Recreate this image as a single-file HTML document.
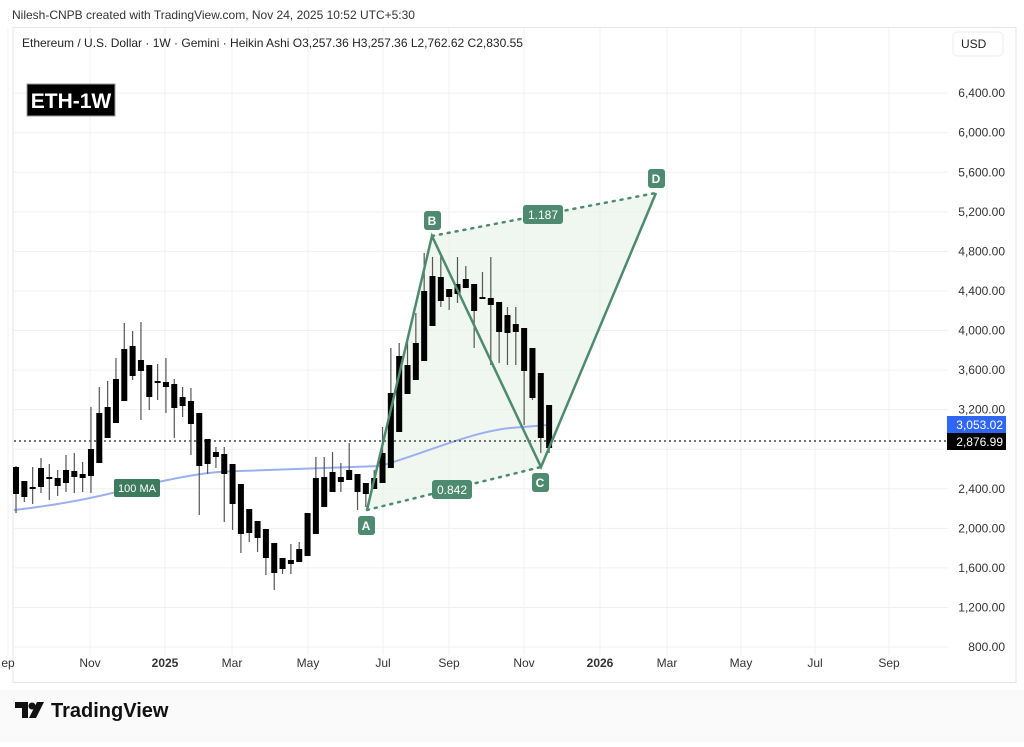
<!DOCTYPE html><html><head><meta charset="utf-8"><style>
body{margin:0;background:#fff;width:1024px;height:742px;overflow:hidden;font-family:"Liberation Sans",sans-serif}
</style></head><body>
<svg width="1024" height="742" xmlns="http://www.w3.org/2000/svg" font-family="Liberation Sans, sans-serif">
<rect x="0" y="690" width="1024" height="52" fill="#fafafa"/>
<text x="12" y="19" font-size="12" fill="#333">Nilesh-CNPB created with TradingView.com, Nov 24, 2025 10:52 UTC+5:30</text>
<rect x="13" y="27.5" width="1003" height="655" fill="#fff" stroke="#e6e6e6"/>
<g stroke="#f0f0f0" stroke-width="1" id="grid"></g>
<text x="22" y="47" font-size="12" fill="#222">Ethereum / U.S. Dollar · 1W · Gemini · Heikin Ashi  O3,257.36  H3,257.36  L2,762.62  C2,830.55</text>
<rect x="27" y="84" width="88" height="32" fill="#000" stroke="#999"/>
<text x="71" y="108" font-size="21" font-weight="bold" fill="#fff" text-anchor="middle">ETH-1W</text>
<rect x="953" y="32" width="50" height="24" rx="4" fill="#fff" stroke="#eee"/>
<text x="961" y="48" font-size="12" fill="#222">USD</text>
<g id="ylab" font-size="12" fill="#333" text-anchor="end"></g>
<g id="xlab" font-size="12" fill="#333" text-anchor="middle"></g>
<polygon points="367,510 432,236 656,193 541,467" fill="#e6f2e6" opacity="0.6"/>
<path d="M14,510 C60,505 100,497 140,486 C180,477 210,471 240,471 L380,466 C420,455 470,432 510,428 L548,425" fill="none" stroke="#9ab0f0" stroke-width="2"/>
<line x1="14" y1="441" x2="948" y2="441" stroke="#222" stroke-dasharray="2,3" stroke-width="1.3"/>
<g id="candles"></g>
<g stroke="#4e8a70" stroke-width="2.5" fill="none">
<polyline points="367,510 432,236 541,467 656,193"/>
<line x1="367" y1="510" x2="541" y2="467" stroke-dasharray="2,6" stroke-linecap="round"/>
<line x1="432" y1="236" x2="656" y2="193" stroke-dasharray="2,6" stroke-linecap="round"/>
</g>
<g font-size="12" fill="#fff" text-anchor="middle" font-weight="bold">
<rect x="424" y="211" width="17" height="19" rx="3" fill="#4e8a70"/><text x="432" y="225">B</text>
<rect x="358" y="516" width="17" height="19" rx="3" fill="#4e8a70"/><text x="366" y="530">A</text>
<rect x="532" y="473" width="17" height="19" rx="3" fill="#4e8a70"/><text x="540" y="487">C</text>
<rect x="648" y="169" width="17" height="19" rx="3" fill="#4e8a70"/><text x="656" y="183">D</text>
<rect x="523" y="205" width="40" height="19" rx="3" fill="#4e8a70"/><text x="543" y="219" font-weight="normal">1.187</text>
<rect x="432" y="480" width="40" height="19" rx="3" fill="#4e8a70"/><text x="452" y="494" font-weight="normal">0.842</text>
<rect x="114" y="479" width="46" height="18" rx="2" fill="#3d7a5e"/><text x="137" y="492" font-size="11" font-weight="normal">100 MA</text>
</g>
<rect x="947" y="416" width="59" height="17" fill="#2f66f6"/><text x="1003" y="429" font-size="12" fill="#fff" text-anchor="end">3,053.02</text>
<rect x="947" y="433" width="59" height="17" fill="#000"/><text x="1003" y="446" font-size="12" fill="#fff" text-anchor="end">2,876.99</text>
<g transform="translate(15,700)"><path d="M0,2 h13 v16 h-6 v-10 h-7z" fill="#111"/><circle cx="17" cy="6" r="3.5" fill="#111"/><path d="M22,2 h7 l-8,16 h-7z" fill="#111"/>
<text x="36" y="17" font-size="20" font-weight="bold" fill="#111">TradingView</text></g>
</svg>
<script>
const ns="http://www.w3.org/2000/svg";
function el(t,a,p){const e=document.createElementNS(ns,t);for(const k in a)e.setAttribute(k,a[k]);p.appendChild(e);return e;}
const Y=p=>647-(p-800)*0.0989;
const grid=document.getElementById('grid'),yl=document.getElementById('ylab'),xl=document.getElementById('xlab');
for(let p=800;p<=6400;p+=400){const y=Y(p);el('line',{x1:14,x2:948,y1:y,y2:y},grid);
 if(p!=2800){const t=el('text',{x:1005,y:y+4},yl);t.textContent=p.toLocaleString('en-US')+'.00';}}
[["ep",8],["Nov",90],["2025",165],["Mar",232],["May",308],["Jul",383],["Sep",449],["Nov",524],["2026",600],["Mar",667],["May",741],["Jul",815],["Sep",889]].forEach(([s,x])=>{
 el('line',{x1:x,x2:x,y1:28,y2:655},grid);const t=el('text',{x:x,y:667},xl);t.textContent=s;
 if(s=="2025"||s=="2026")t.setAttribute('font-weight','bold');});
// [bodyTop, bodyBot, wickTop, wickBot]
const C=[[467,494,466,513],[481,497,481,502],[487,489,467,504],[468,487,458,493],[477,479,464,500],[478,486,470,496],[470,483,455,492],[471,477,453,493],[474,478,462,492],[449,476,407,493],[413,463,387,463],[407,438,381,438],[379,423,358,423],[349,401,323,401],[346,376,331,380],[360,371,322,420],[365,397,365,410],[381,383,364,400],[382,387,358,413],[384,408,379,438],[397,406,387,417],[401,424,388,455],[413,466,413,515],[439,464,439,474],[452,457,447,468],[454,474,447,522],[464,504,464,530],[484,534,484,553],[509,533,509,542],[521,538,521,552],[529,558,529,575],[543,573,543,590],[558,569,558,574],[560,564,544,574],[549,562,542,562],[513,556,513,556],[478,534,457,534],[477,507,457,507],[472,492,452,492],[477,482,463,492],[470,480,443,480],[474,492,474,510],[483,494,483,507],[478,489,470,489],[453,483,427,483],[393,468,348,468],[356,432,343,432],[365,394,338,394],[343,380,313,380],[291,361,253,361],[276,326,257,326],[277,301,253,307],[289,297,289,310],[284,294,257,303],[279,288,266,288],[284,311,284,348],[297,298,272,298],[298,305,257,365],[302,332,302,363],[315,333,307,365],[324,332,307,365],[328,371,328,425],[348,398,348,400],[373,438,373,453],[405,448,405,453]];
const cg=document.getElementById('candles');
C.forEach((c,i)=>{const x=16+8.33*i;
 el('line',{x1:x,x2:x,y1:c[2],y2:c[3],stroke:'#555','stroke-width':1.2},cg);
 el('rect',{x:x-3,y:c[0],width:6,height:Math.max(2,c[1]-c[0]),fill:'#000'},cg);});
</script>
</body></html>
